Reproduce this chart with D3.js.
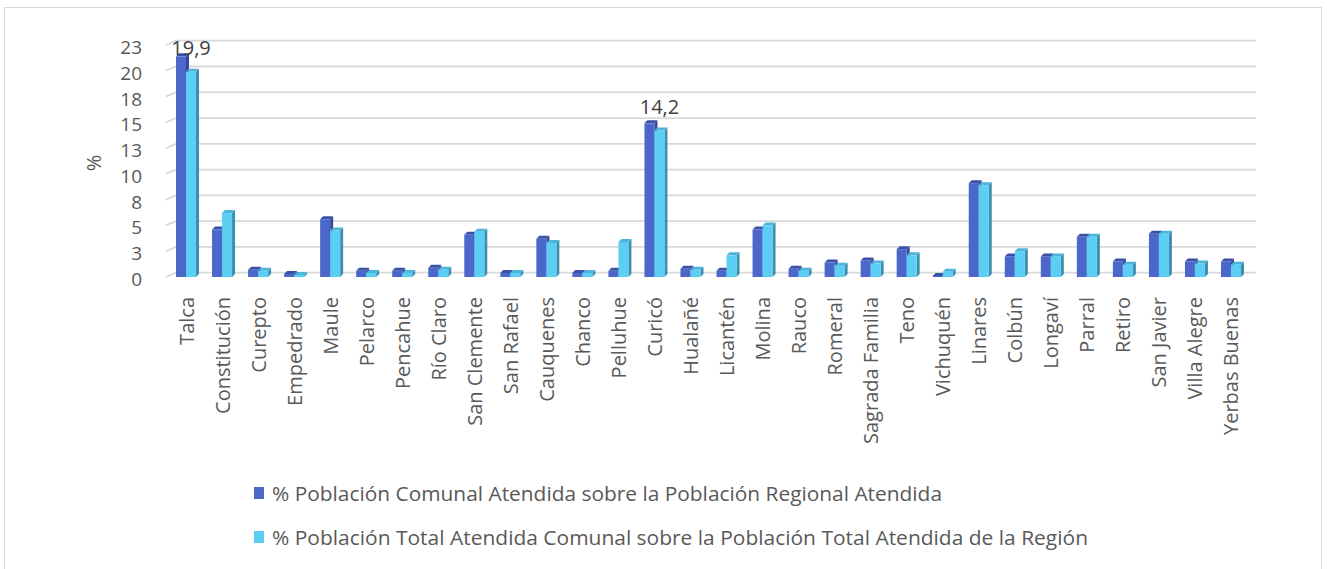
<!DOCTYPE html>
<html>
<head>
<meta charset="utf-8">
<style>
  body { margin: 0; background: #fff; }
  svg { display: block; font-family: "Open Sans", sans-serif; }
</style>
</head>
<body>
<svg width="1327" height="569"></svg>
<script src="https://d3js.org/d3.v7.min.js"></script>
<script>

// Data
var comunas = ["Talca", "Constitución", "Curepto", "Empedrado", "Maule", "Pelarco", "Pencahue",
  "Río Claro", "San Clemente", "San Rafael", "Cauquenes", "Chanco", "Pelluhue", "Curicó",
  "Hualañé", "Licantén", "Molina", "Rauco", "Romeral", "Sagrada Familia", "Teno", "Vichuquén",
  "Linares", "Colbún", "Longaví", "Parral", "Retiro", "San Javier", "Villa Alegre", "Yerbas Buenas"];

var regional = [21.4, 4.6, 0.7, 0.3, 5.6, 0.6, 0.6, 0.9, 4.1, 0.4, 3.7, 0.4, 0.6, 14.9,
  0.8, 0.6, 4.6, 0.8, 1.4, 1.6, 2.7, 0.1, 9.1, 2.0, 2.0, 3.9, 1.5, 4.2, 1.5, 1.5];

var total = [19.9, 6.2, 0.6, 0.2, 4.5, 0.4, 0.4, 0.7, 4.4, 0.4, 3.3, 0.4, 3.4, 14.2,
  0.7, 2.1, 5.0, 0.6, 1.1, 1.3, 2.1, 0.5, 8.9, 2.5, 2.0, 3.9, 1.2, 4.2, 1.3, 1.2];

var yTicks = [0, 2.5, 5, 7.5, 10, 12.5, 15, 17.5, 20, 22.5];
var labelled = ["Talca", "Curicó"];   // data labels only shown on these (second series)

var seriesNames = [
  "% Población Comunal Atendida sobre la Población Regional Atendida",
  "% Población Total Atendida Comunal sobre la Población Total Atendida de la Región"
];

var svg = d3.select("svg");

// chart border
svg.append("rect")
    .attr("x", 4.5).attr("y", 7.5)
    .attr("width", 1317).attr("height", 620)
    .attr("fill", "none")
    .attr("stroke", "#d9d9d9");

// scales (front plane of the pseudo 3D chart)
var x = d3.scaleBand().domain(comunas).range([168, 1249]);
var y = d3.scaleLinear().domain([0, 22.5]).range([277, 45]);

var wall = {dx: 10, dy: 4.3};   // back wall offset
var depth = {dx: 3, dy: 3};     // bar depth
var bw = 10;                    // bar front width

// gridlines on back wall with short diagonal on the left side wall
var grid = svg.append("g");
yTicks.forEach(function(t) {
  var yy = y(t);
  grid.append("path")
      .attr("d", "M" + (x.range()[0] - 2) + "," + yy +
                 "L" + (x.range()[0] - 2 + wall.dx) + "," + (yy - wall.dy) +
                 "L" + (x.range()[1] + 7) + "," + (yy - wall.dy))
      .attr("fill", "none")
      .attr("stroke", "#d9d9d9")
      .attr("stroke-width", 1.8);
});

// y axis tick labels (Excel rounds 2.5 -> 3 etc.)
svg.append("g").selectAll("text")
  .data(yTicks)
  .join("text")
    .attr("x", 142)
    .attr("y", function(d) { return y(d) + 2; })
    .attr("text-anchor", "end")
    .attr("dominant-baseline", "central")
    .attr("font-size", 19)
    .attr("fill", "#595959")
    .text(function(d) { return Math.round(d); });

svg.append("text")
    .attr("transform", "translate(93,163) rotate(-90)")
    .attr("text-anchor", "middle")
    .attr("dominant-baseline", "central")
    .attr("font-size", 20)
    .attr("fill", "#595959")
    .text("%");

// draws one series of 3D columns
function drawBars(values, offset, colors) {
  var g = svg.append("g");
  comunas.forEach(function(c, i) {
    var x0 = x(c) + x.bandwidth() / 2 + offset,
        y0 = y(0),
        yt = y(values[i]);
    // side
    g.append("path")
        .attr("d", "M" + (x0 + bw) + "," + yt + "L" + (x0 + bw + depth.dx) + "," + (yt - depth.dy) +
                   "L" + (x0 + bw + depth.dx) + "," + (y0 - depth.dy) + "L" + (x0 + bw) + "," + y0 + "Z")
        .attr("fill", colors.side);
    // top
    g.append("path")
        .attr("d", "M" + x0 + "," + yt + "L" + (x0 + depth.dx) + "," + (yt - depth.dy) +
                   "L" + (x0 + bw + depth.dx) + "," + (yt - depth.dy) + "L" + (x0 + bw) + "," + yt + "Z")
        .attr("fill", colors.top);
    // front
    g.append("rect")
        .attr("x", x0).attr("y", yt)
        .attr("width", bw).attr("height", y0 - yt)
        .attr("fill", colors.front);
  });
}

var darkColors = {front: "#4a67c9", top: "#3850a6", side: "#34479a"};
var lightColors = {front: "#5ccdf3", top: "#4bb4d8", side: "#3a90ae"};

drawBars(regional, -bw, darkColors);
drawBars(total, 0, lightColors);

// data labels
var fmt = d3.formatLocale({decimal: ",", thousands: ".", grouping: [3], currency: ["", ""]}).format(".1f");
svg.append("g").selectAll("text")
  .data(labelled)
  .join("text")
    .attr("x", function(d) { return x(d) + x.bandwidth() / 2 + bw / 2; })
    .attr("y", function(d) { return y(total[comunas.indexOf(d)]) - 24; })
    .attr("text-anchor", "middle")
    .attr("dominant-baseline", "central")
    .attr("font-size", 20)
    .attr("fill", "#404040")
    .text(function(d) { return fmt(total[comunas.indexOf(d)]); });

// category labels
svg.append("g").selectAll("text")
  .data(comunas)
  .join("text")
    .attr("transform", function(d) {
      return "translate(" + (x(d) + x.bandwidth() / 2) + ",297) rotate(-90)";
    })
    .attr("text-anchor", "end")
    .attr("dominant-baseline", "central")
    .attr("font-size", 20)
    .attr("fill", "#595959")
    .text(function(d) { return d; });

// legend
var legendWidths = [670, 816];
var legend = svg.append("g").selectAll("g")
  .data(seriesNames)
  .join("g")
    .attr("transform", function(d, i) { return "translate(254," + (493 + i * 44) + ")"; });

legend.append("rect")
    .attr("x", 0).attr("y", -6)
    .attr("width", 10).attr("height", 12)
    .attr("fill", function(d, i) { return i === 0 ? darkColors.front : lightColors.front; });

legend.append("text")
    .attr("x", 18)
    .attr("dominant-baseline", "central")
    .attr("font-size", 19.5)
    .attr("fill", "#595959")
    .attr("textLength", function(d, i) { return legendWidths[i]; })
    .attr("lengthAdjust", "spacingAndGlyphs")
    .text(function(d) { return d; });

</script>
</body>
</html>
